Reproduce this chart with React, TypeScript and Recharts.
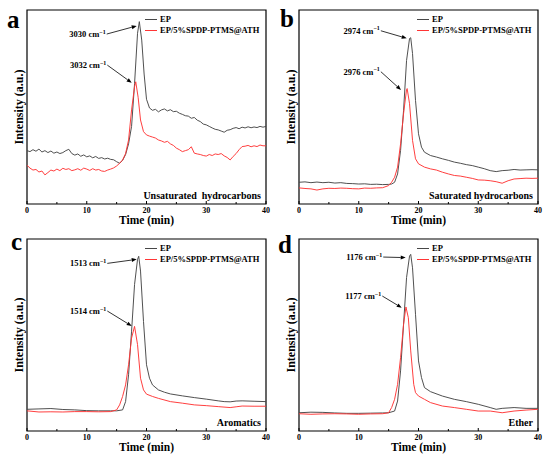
import React from 'react';
import { LineChart, Line, XAxis, YAxis, ReferenceLine, ReferenceArea, Legend } from 'recharts';

const FONT = "'Times New Roman', 'Liberation Serif', serif";
const EP_COLOR = '#474747';
const MOD_COLOR = '#ff3535';
const seriesNames = ['EP', 'EP/5%SPDP-PTMS@ATH'];
const xTicks = [0, 5, 10, 15, 20, 25, 30, 35, 40];

// ---- panel a : unsaturated hydrocarbons ----
const aTimeEP = [0,0.5,1,1.5,2,2.5,3,3.5,4,4.5,5,5.5,6,6.5,7,7.5,8,8.5,9,9.5,10,10.5,11,11.5,12,12.5,13,13.5,14,14.5,15,15.5,16,16.5,17,17.5,18,18.5,18.8,19.2,19.6,20,20.5,21,21.5,22,22.5,23,23.5,24,24.5,25,25.5,26,26.5,27,27.5,28,28.5,29,29.5,30,30.5,31,31.5,32,32.5,33,33.5,34,34.5,35,35.5,36,36.5,37,37.5,38,38.5,39,39.5,40];
const aEP = [27.5,27,28,27.2,28.3,26.8,27.5,26.5,27.3,26.2,26.8,26,26.5,27.5,28.2,26,25.2,25.8,24.6,25.3,24.3,24.8,23.8,24.5,23.5,23.9,23.2,23.6,23,22.8,21.8,21,22.5,25.5,31,40,62,88,94,84.5,67,54,49.5,48.3,48.8,47.5,48.5,49,48,48.6,47.6,47.8,46.8,46.2,45.5,45.3,44.2,44.6,43.2,42.5,41.2,40.8,40,39.2,38.5,38.2,37.6,37,38,38.3,39,39.4,38.8,39.6,39.2,39.8,39.3,39.7,39.4,40,39.6,40];
const aTimeMod = [0,0.5,1,1.5,2,2.5,3,3.5,4,4.5,5,5.5,6,6.5,7,7.5,8,8.5,9,9.5,10,10.5,11,11.5,12,12.5,13,13.5,14,14.5,15,15.5,16,16.5,17,17.5,18,18.2,18.6,19,19.5,20,20.5,21,21.5,22,22.5,23,23.5,24,24.5,25,25.5,26,26.5,27,27.5,28,28.5,29,29.5,30,30.5,31,31.5,32,32.5,33,33.5,34,34.5,35,35.5,36,36.5,37,37.5,38,38.5,39,39.5,40];
const aMod = [20,18.5,17.5,17.8,16.5,17,15,16.2,17.5,17,18,17.2,18.4,17.8,18.2,17.2,17.6,18.2,17.4,18.5,18,17.3,18.2,17.5,17.8,17,16.8,17.5,18,18.6,19.6,21,22.7,26,33,48.5,60.5,63,55,43.3,37.3,35.6,35,34.5,34,33,32.5,31.8,32.3,31,30.2,28.8,28,27,27.5,28,29.5,26.2,25.8,25.5,25,24.7,25.5,25,25.8,25.5,26,24.8,24,22.7,24.5,26,28,29.6,29.8,30.2,29.5,30,29.6,30.4,30,30];

// ---- panel b : saturated hydrocarbons ----
const bTimeEP = [0,1,2,3,4,5,6,7,8,9,10,11,12,13,14,15,15.5,16,16.5,17,17.5,18,18.5,18.7,19,19.5,20,20.5,21,22,23,24,25,26,27,28,29,30,31,32,33,34,35,36,37,38,39,40];
const bEP = [11.2,11.4,11.0,11.3,11.0,11.2,10.8,11.0,10.6,10.5,10.3,10.4,10.1,10.2,10.0,10.1,10.3,11.2,15.5,27.6,48.3,74,85.3,85.7,77.6,53.4,36.2,29.3,26.7,25,24.2,23.3,22.5,21.6,21,20.3,19.8,19,18.2,17.2,16.7,17.2,17.4,17.8,17.5,17.6,17.7,17.6];
const bTimeMod = [0,1,2,3,4,5,6,7,8,9,10,11,12,13,14,15,15.5,16,16.5,17,17.5,18,18.1,18.5,19,19.5,20,21,22,23,24,25,26,27,28,29,30,31,32,33,34,35,36,37,38,39,40];
const bMod = [8.3,8.0,7.8,7.2,7.8,8.1,8.0,8.2,8.1,7.9,7.8,8.2,8.1,8.3,8.4,9.5,11.2,13.8,19,31,46.6,59,59.5,51.7,32.8,23.3,20.7,19,18.1,17.5,16.4,15.5,14.7,14.4,13.8,13.2,12.4,12.3,12,11.5,10.7,12,12.9,13.1,13.3,13.2,13.3];

// ---- panel c : aromatics ----
const cTimeEP = [0,2,4,6,8,10,12,14,15,16,16.5,17,17.5,18,18.5,18.7,19,19.5,20,20.5,21,22,23,24,26,28,30,32,33,34,35,36,38,40];
const cEP = [11.3,11.5,11.7,11.2,11,10.6,10.5,10.5,10.5,11,15.3,29.3,52,76.3,89.4,91,83.3,57,34.5,27.5,24,21.4,20.2,19.3,18.3,17.4,16.6,15.7,15.3,15.2,15.6,15.7,15.5,15.3];
const cTimeMod = [0,2,4,6,8,10,12,14,15,15.5,16,16.5,17,17.5,18,18.5,19,19.5,20,21,22,24,26,28,30,32,34,35,36,38,40];
const cMod = [10.5,9.9,10,9.9,10.1,10.1,10,10.1,11,13.6,18,24,34.5,48.4,54.5,45,27.5,21.4,19.2,18,17,15.3,14.5,13.6,13.2,12.7,12.2,12.6,13,12.9,12.9];

// ---- panel d : ether ----
const dTimeEP = [0,2,4,6,8,10,12,14,15,16,16.5,17,17.5,18,18.5,18.7,19,19.5,20,20.5,21,22,24,26,28,30,32,33,34,36,38,40];
const dEP = [9.5,9.8,9.7,9.4,9.2,9.2,9.3,9.4,9.5,10.4,15.6,31.3,55.6,79.9,91.1,92,85,60.8,36.5,27.8,22.6,20.5,18.2,16.5,15.3,13.9,12.2,11.3,11.8,12.2,11.8,11.8];
const dTimeMod = [0,2,4,6,8,10,12,14,15,15.5,16,16.5,17,17.5,17.9,18.3,18.7,19.2,19.5,20,21,22,24,26,28,30,32,34,36,38,40];
const dMod = [9,8.7,8.9,9,8.9,8.7,8.9,9,9.5,12.2,16.5,24.3,38.2,55.6,64.6,59,41.7,24.3,20,18.2,16.5,14.8,13,12.2,11.3,10.4,10.4,9.5,10.4,10.9,11.3];

// peak annotation texts
const aPeaks = ['3030 cm', '3032 cm'];
const bPeaks = ['2974 cm', '2976 cm'];
const cPeaks = ['1513 cm', '1514 cm'];
const dPeaks = ['1176 cm', '1177 cm'];
const panelLetters = ['a', 'b', 'c', 'd'];
const cornerLabels = ['Unsaturated\u00a0 hydrocarbons', 'Saturated hydrocarbons', 'Aromatics', 'Ether'];

const zip = (ts: number[], vs: number[]) => ts.map((t, i) => ({ t, v: vs[i] }));

type ArrowDef = { text: string; from: [number, number]; to: [number, number] };

const ArrowShape = (props: any) => {
  const { x1, y1, x2, y2, text } = props;
  const dx = x2 - x1;
  const dy = y2 - y1;
  const len = Math.hypot(dx, dy) || 1;
  const ux = dx / len;
  const uy = dy / len;
  const hl = 5;
  const hw = 2;
  const bx = x2 - ux * hl;
  const by = y2 - uy * hl;
  const pts = `${x2},${y2} ${bx - uy * hw},${by + ux * hw} ${bx + uy * hw},${by - ux * hw}`;
  return (
    <g>
      <line x1={x1} y1={y1} x2={bx} y2={by} stroke="#000" strokeWidth={0.8} />
      <polygon points={pts} fill="#000" />
      <text x={x1 - 1} y={y1 + 3} textAnchor="end" fontFamily={FONT} fontWeight="bold" fontSize={8.5} fill="#000">
        {text}
        <tspan fontSize={6} dy={-3.5}>−1</tspan>
      </text>
    </g>
  );
};

const renderTick = (p: any) => {
  const { x, y, payload } = p;
  const major = payload.value % 10 === 0;
  return (
    <g key={`t-${payload.value}`}>
      <line x1={x} x2={x} y1={y} y2={y - (major ? 3 : 2)} stroke="#000" strokeWidth={1} />
      {major && (
        <text x={x} y={y + 9} textAnchor="middle" fontFamily={FONT} fontWeight="bold" fontSize={8} fill="#000">
          {payload.value}
        </text>
      )}
    </g>
  );
};

const makeXLabel = (corner: string) => (p: any) => {
  const vb = p.viewBox;
  return (
    <g>
      <text x={vb.x + vb.width / 2} y={vb.y + 20} textAnchor="middle" fontFamily={FONT} fontWeight="bold" fontSize={11.5} fill="#000">
        Time (min)
      </text>
      <text x={vb.x + vb.width - 5} y={vb.y - 5} textAnchor="end" fontFamily={FONT} fontWeight="bold" fontSize={10} fill="#000">
        {corner}
      </text>
    </g>
  );
};

const renderYLabel = (p: any) => {
  const vb = p.viewBox;
  const cx = vb.x + vb.width - 8;
  const cy = vb.y + vb.height / 2;
  return (
    <text x={cx} y={cy} transform={`rotate(-90 ${cx} ${cy})`} textAnchor="middle" dominantBaseline="central" fontFamily={FONT} fontWeight="bold" fontSize={12} fill="#000">
      Intensity (a.u.)
    </text>
  );
};

const renderLegend = () => (
  <div style={{ fontFamily: FONT, fontWeight: 'bold', fontSize: 8.5, color: '#000' }}>
    {seriesNames.map((n, i) => (
      <div key={n} style={{ display: 'flex', alignItems: 'center', height: 11, whiteSpace: 'nowrap' }}>
        <span style={{ display: 'inline-block', width: 12, borderTop: `1.5px solid ${i === 0 ? EP_COLOR : MOD_COLOR}`, marginRight: 3 }} />
        <span>{n}</span>
      </div>
    ))}
  </div>
);

type PanelProps = {
  left: number; top: number; height: number; mTop: number; mRight: number; yW: number; xH: number;
  ep: { t: number; v: number }[]; mod: { t: number; v: number }[]; arrows: ArrowDef[]; corner: string;
};

function Panel(p: PanelProps) {
  const plotRight = 275 - p.mRight;
  return (
    <div style={{ position: 'absolute', left: p.left, top: p.top }}>
      <LineChart width={275} height={p.height} margin={{ top: p.mTop, right: p.mRight, bottom: 0, left: 0 }}>
        <XAxis type="number" dataKey="t" domain={[0, 40]} ticks={xTicks} interval={0} tick={renderTick} tickSize={0} tickMargin={0} tickLine={false} axisLine={false} height={p.xH} label={makeXLabel(p.corner)} allowDataOverflow />
        <YAxis type="number" domain={[0, 100]} tick={false} tickLine={false} axisLine={false} width={p.yW} label={renderYLabel} allowDataOverflow />
        <ReferenceArea x1={0} x2={40} y1={0} y2={100} fill="none" fillOpacity={0} stroke="#000" strokeWidth={1.2} strokeOpacity={1} />
        <Line data={p.ep} dataKey="v" name={seriesNames[0]} stroke={EP_COLOR} strokeWidth={0.95} dot={false} isAnimationActive={false} type="linear" />
        <Line data={p.mod} dataKey="v" name={seriesNames[1]} stroke={MOD_COLOR} strokeWidth={0.95} dot={false} isAnimationActive={false} type="linear" />
        {p.arrows.map((a, i) => (
          <ReferenceLine
            key={i}
            segment={[{ x: a.from[0], y: a.from[1] }, { x: a.to[0], y: a.to[1] }]}
            shape={(sp: any) => <ArrowShape {...sp} text={a.text} />}
          />
        ))}
        <Legend layout="vertical" align="center" verticalAlign="middle" wrapperStyle={{ left: plotRight - 121, top: p.mTop + 3.5, width: 130 }} content={renderLegend} />
      </LineChart>
    </div>
  );
}

export default function App() {
  const arrowsA: ArrowDef[] = [
    { text: aPeaks[0], from: [13.34, 87.6], to: [18.36, 91.8] },
    { text: aPeaks[1], from: [13.44, 71.6], to: [17.52, 62.5] },
  ];
  const arrowsB: ArrowDef[] = [
    { text: bPeaks[0], from: [13.7, 89.3], to: [18.03, 85.4] },
    { text: bPeaks[1], from: [13.7, 68.2], to: [17.07, 58.8] },
  ];
  const arrowsC: ArrowDef[] = [
    { text: cPeaks[0], from: [13.44, 87.3], to: [18.36, 89.4] },
    { text: cPeaks[1], from: [13.44, 62.5], to: [17.52, 54.7] },
  ];
  const arrowsD: ArrowDef[] = [
    { text: dPeaks[0], from: [14.1, 90.6], to: [17.86, 90.3] },
    { text: dPeaks[1], from: [13.94, 70.3], to: [17.19, 64.2] },
  ];
  return (
    <div style={{ position: 'absolute', left: 0, top: 0, width: 550, height: 463, background: '#fff', overflow: 'hidden' }}>
      <Panel left={0} top={0} height={231} mTop={10} mRight={9} yW={27} xH={27} ep={zip(aTimeEP, aEP)} mod={zip(aTimeMod, aMod)} arrows={arrowsA} corner={cornerLabels[0]} />
      <Panel left={275} top={0} height={231} mTop={10} mRight={12} yW={24} xH={27} ep={zip(bTimeEP, bEP)} mod={zip(bTimeMod, bMod)} arrows={arrowsB} corner={cornerLabels[1]} />
      <Panel left={0} top={231} height={232} mTop={8} mRight={9} yW={27} xH={32} ep={zip(cTimeEP, cEP)} mod={zip(cTimeMod, cMod)} arrows={arrowsC} corner={cornerLabels[2]} />
      <Panel left={275} top={231} height={232} mTop={8} mRight={12} yW={24} xH={32} ep={zip(dTimeEP, dEP)} mod={zip(dTimeMod, dMod)} arrows={arrowsD} corner={cornerLabels[3]} />
      <svg width={550} height={463} style={{ position: 'absolute', left: 0, top: 0, pointerEvents: 'none' }}>
        <text x={7} y={28} fontFamily={FONT} fontWeight="bold" fontSize={25} fill="#000">{panelLetters[0]}</text>
        <text x={280} y={27} fontFamily={FONT} fontWeight="bold" fontSize={25} fill="#000">{panelLetters[1]}</text>
        <text x={11} y={250} fontFamily={FONT} fontWeight="bold" fontSize={25} fill="#000">{panelLetters[2]}</text>
        <text x={278} y={253} fontFamily={FONT} fontWeight="bold" fontSize={25} fill="#000">{panelLetters[3]}</text>
      </svg>
    </div>
  );
}
